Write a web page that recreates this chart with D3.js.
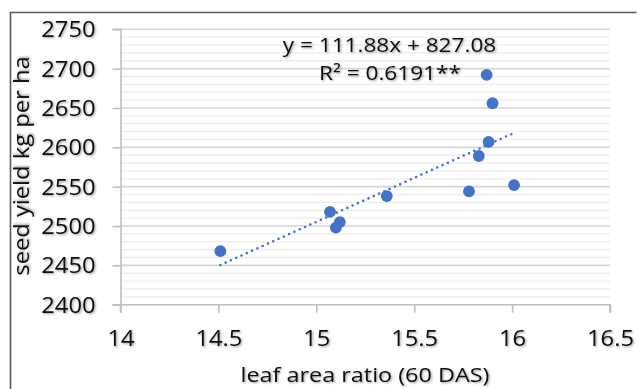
<!DOCTYPE html>
<html>
<head>
<meta charset="utf-8">
<script src="https://cdn.jsdelivr.net/npm/d3@7"></script>
<style>
  html, body { margin: 0; padding: 0; background: #fff; }
  svg { display: block; }
  text { font-family: "Open Sans", "Noto Sans", sans-serif; fill: #111; }
</style>
</head>
<body>
<svg id="chart" width="637" height="389"></svg>
<script>
// Leaf area ratio at 60 DAS against seed yield
const leafAreaRatio = [14.51, 15.07, 15.12, 15.10, 15.36, 15.78, 16.01, 15.83, 15.88, 15.90, 15.87];
const seedYield     = [2468, 2518, 2505, 2498, 2538, 2544, 2552, 2589, 2607, 2656, 2692];

// Linear fit reported on the chart
const fitSlope = 111.88;
const fitIntercept = 827.08;
const fitLabel = "y = 111.88x + 827.08";
const r2Label = "R² = 0.6191**";

const xTicks = [14, 14.5, 15, 15.5, 16, 16.5];
const yTicks = [2400, 2450, 2500, 2550, 2600, 2650, 2700, 2750];
const yMinorStep = 10;

const xTitle = "leaf area ratio (60 DAS)";
const yTitle = "seed yield kg per ha";

const svg = d3.select("#chart");
const W = 637, H = 389;
const plot = { left: 120.5, right: 610, top: 29.3, bottom: 304.7 };
const blue = "#4472c4";
const FS = 21;        // label font size
const WIDEN = 1.13;   // horizontal widening of the label glyphs

const x = d3.scaleLinear().domain([14, 16.5]).range([plot.left, plot.right]);
const y = d3.scaleLinear().domain([2400, 2750]).range([plot.bottom, plot.top]);

function widen(sel, origin) {
  sel.style("transform-box", "fill-box")
     .style("transform-origin", origin)
     .style("transform", `scaleX(${WIDEN})`);
}

// soft shadow under the text
const defs = svg.append("defs");
const f = defs.append("filter").attr("id", "txtShadow")
  .attr("x", "-10%").attr("y", "-20%").attr("width", "130%").attr("height", "150%");
f.append("feDropShadow").attr("dx", 1).attr("dy", 1).attr("stdDeviation", 0.8)
  .attr("flood-color", "#000").attr("flood-opacity", 0.4);

// outer frame (left and top edges visible)
svg.append("path")
  .attr("d", `M10.5,${H + 2} L10.5,12.5 L${W - 0.5},12.5`)
  .attr("fill", "none").attr("stroke", "#5a5a5a").attr("stroke-width", 1.6);

// minor gridlines
const minorVals = d3.range(2400, 2750 + 0.001, yMinorStep).filter(v => v % 50 !== 0);
svg.append("g").selectAll("line").data(minorVals).join("line")
  .attr("x1", plot.left).attr("x2", plot.right)
  .attr("y1", d => y(d)).attr("y2", d => y(d))
  .attr("stroke", "#ededed").attr("stroke-width", 1.3);

// major gridlines
svg.append("g").selectAll("line").data(yTicks.filter(v => v !== 2400)).join("line")
  .attr("x1", plot.left).attr("x2", plot.right)
  .attr("y1", d => y(d)).attr("y2", d => y(d))
  .attr("stroke", "#d6d6d6").attr("stroke-width", 1.6);

// y axis
const yAxis = svg.append("g")
  .attr("transform", `translate(${plot.left},0)`)
  .call(d3.axisLeft(y).tickValues(yTicks).tickSize(8).tickPadding(17).tickFormat(d3.format("d")));
yAxis.select(".domain").attr("stroke", "#bfbfbf").attr("stroke-width", 1.6)
  .attr("d", `M-8,${plot.top}H0.5V${plot.bottom}H-8`);
yAxis.selectAll(".tick line").attr("stroke", "#bfbfbf").attr("stroke-width", 1.6);
yAxis.selectAll(".tick text")
  .attr("font-size", FS).attr("fill", "#111").attr("dy", "0.36em")
  .attr("filter", "url(#txtShadow)")
  .style("font-family", "'Open Sans', sans-serif")
  .call(widen, "right center");

// x axis
const xAxis = svg.append("g")
  .attr("transform", `translate(0,${plot.bottom})`)
  .call(d3.axisBottom(x).tickValues(xTicks).tickSize(8).tickPadding(18).tickFormat(d3.format("")));
xAxis.select(".domain").attr("stroke", "#bfbfbf").attr("stroke-width", 1.6)
  .attr("d", `M${plot.left},8V0H${plot.right}V8`);
xAxis.selectAll(".tick line").attr("stroke", "#bfbfbf").attr("stroke-width", 1.6);
xAxis.selectAll(".tick text")
  .attr("font-size", FS).attr("fill", "#111")
  .attr("filter", "url(#txtShadow)")
  .style("font-family", "'Open Sans', sans-serif")
  .call(widen, "center");

// trendline over the observed range
const xr = d3.extent(leafAreaRatio);
svg.append("line")
  .attr("x1", x(xr[0])).attr("y1", y(fitSlope * xr[0] + fitIntercept))
  .attr("x2", x(xr[1])).attr("y2", y(fitSlope * xr[1] + fitIntercept))
  .attr("stroke", blue).attr("stroke-width", 2.6)
  .attr("stroke-linecap", "round").attr("stroke-dasharray", "0 5.8");

// observations
svg.append("g").selectAll("circle").data(d3.zip(leafAreaRatio, seedYield)).join("circle")
  .attr("cx", d => x(d[0])).attr("cy", d => y(d[1]))
  .attr("r", 5.9).attr("fill", blue);

// regression labels
svg.append("text").attr("x", 389.5).attr("y", 52).attr("text-anchor", "middle")
  .attr("font-size", 20).attr("filter", "url(#txtShadow)").text(fitLabel)
  .call(widen, "center");
svg.append("text").attr("x", 390).attr("y", 80).attr("text-anchor", "middle")
  .attr("font-size", 20).attr("filter", "url(#txtShadow)").text(r2Label)
  .call(widen, "center");

// axis titles
svg.append("text").attr("x", 365).attr("y", 382).attr("text-anchor", "middle")
  .attr("font-size", 20).attr("filter", "url(#txtShadow)").text(xTitle)
  .style("transform-box", "fill-box").style("transform-origin", "center")
  .style("transform", "scaleX(1.17)");
svg.append("g")
  .attr("transform", `translate(29,166) rotate(-90)`)
  .append("text")
  .attr("text-anchor", "middle")
  .attr("font-size", FS).attr("filter", "url(#txtShadow)").text(yTitle)
  .call(widen, "center");
</script>
</body>
</html>
